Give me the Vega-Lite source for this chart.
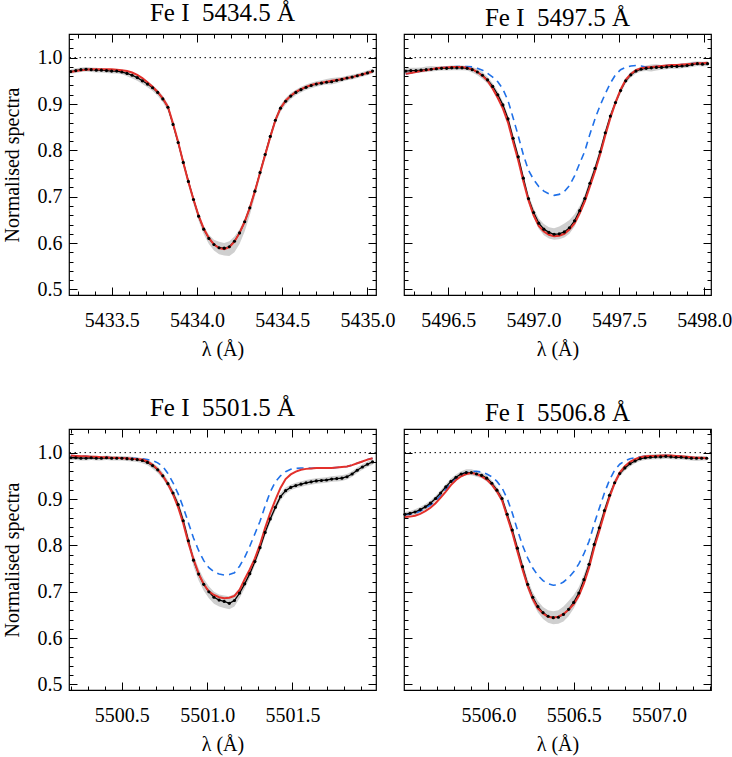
{
"$schema": "https://vega.github.io/schema/vega-lite/v6.json",
"padding": {"left": 1, "top": 0, "right": 5, "bottom": 5},
"background": "white",
"config": {
 "view": {"stroke": "black", "strokeWidth": 1.2},
 "font": "Liberation Serif",
 "style": {"guide-label": {"font": "Liberation Serif", "fontSize": 20, "fill": "black"}, "guide-title": {"font": "Liberation Serif", "fontSize": 20, "fontWeight": "normal", "fill": "black"}},
 "axis": {"labelFont": "Liberation Serif", "labelFontSize": 20, "labelColor": "black", "titleFont": "Liberation Serif", "titleFontSize": 20, "titleFontWeight": "normal", "titleColor": "black", "tickColor": "black", "tickWidth": 1, "domain": false, "grid": false, "labelOverlap": false, "labelFlush": false},
 "title": {"font": "Liberation Serif", "fontSize": 25, "fontWeight": "normal", "color": "black", "frame": "group", "anchor": "middle", "offset": 3, "baseline": "alphabetic"}
},
"datasets": {
 "p1": [
  {"lam":5433.26,"obs":0.970,"fit":0.969,"lo":0.965,"hi":0.975},
  {"lam":5433.29,"obs":0.972,"fit":0.971,"lo":0.967,"hi":0.977},
  {"lam":5433.32,"obs":0.974,"fit":0.973,"lo":0.969,"hi":0.979},
  {"lam":5433.35,"obs":0.975,"fit":0.974,"lo":0.970,"hi":0.980},
  {"lam":5433.38,"obs":0.974,"fit":0.975,"lo":0.969,"hi":0.979},
  {"lam":5433.41,"obs":0.973,"fit":0.975,"lo":0.968,"hi":0.978},
  {"lam":5433.44,"obs":0.973,"fit":0.975,"lo":0.968,"hi":0.977},
  {"lam":5433.47,"obs":0.972,"fit":0.975,"lo":0.967,"hi":0.976},
  {"lam":5433.50,"obs":0.971,"fit":0.975,"lo":0.966,"hi":0.975},
  {"lam":5433.53,"obs":0.971,"fit":0.974,"lo":0.966,"hi":0.975},
  {"lam":5433.56,"obs":0.969,"fit":0.973,"lo":0.964,"hi":0.974},
  {"lam":5433.59,"obs":0.966,"fit":0.971,"lo":0.960,"hi":0.972},
  {"lam":5433.62,"obs":0.962,"fit":0.968,"lo":0.955,"hi":0.968},
  {"lam":5433.65,"obs":0.957,"fit":0.963,"lo":0.950,"hi":0.963},
  {"lam":5433.68,"obs":0.950,"fit":0.956,"lo":0.943,"hi":0.956},
  {"lam":5433.71,"obs":0.943,"fit":0.947,"lo":0.936,"hi":0.949},
  {"lam":5433.74,"obs":0.935,"fit":0.937,"lo":0.928,"hi":0.941},
  {"lam":5433.77,"obs":0.925,"fit":0.926,"lo":0.918,"hi":0.931},
  {"lam":5433.80,"obs":0.911,"fit":0.912,"lo":0.904,"hi":0.918},
  {"lam":5433.83,"obs":0.893,"fit":0.894,"lo":0.885,"hi":0.900},
  {"lam":5433.86,"obs":0.856,"fit":0.858,"lo":0.848,"hi":0.863},
  {"lam":5433.89,"obs":0.817,"fit":0.818,"lo":0.809,"hi":0.824},
  {"lam":5433.92,"obs":0.774,"fit":0.774,"lo":0.765,"hi":0.781},
  {"lam":5433.95,"obs":0.733,"fit":0.732,"lo":0.724,"hi":0.740},
  {"lam":5433.98,"obs":0.694,"fit":0.694,"lo":0.684,"hi":0.701},
  {"lam":5434.01,"obs":0.658,"fit":0.659,"lo":0.648,"hi":0.665},
  {"lam":5434.04,"obs":0.630,"fit":0.631,"lo":0.619,"hi":0.637},
  {"lam":5434.07,"obs":0.610,"fit":0.611,"lo":0.598,"hi":0.618},
  {"lam":5434.10,"obs":0.597,"fit":0.597,"lo":0.584,"hi":0.607},
  {"lam":5434.13,"obs":0.590,"fit":0.589,"lo":0.576,"hi":0.603},
  {"lam":5434.16,"obs":0.589,"fit":0.587,"lo":0.573,"hi":0.600},
  {"lam":5434.19,"obs":0.592,"fit":0.591,"lo":0.572,"hi":0.604},
  {"lam":5434.22,"obs":0.604,"fit":0.603,"lo":0.580,"hi":0.614},
  {"lam":5434.25,"obs":0.622,"fit":0.622,"lo":0.598,"hi":0.630},
  {"lam":5434.28,"obs":0.646,"fit":0.646,"lo":0.625,"hi":0.653},
  {"lam":5434.31,"obs":0.676,"fit":0.676,"lo":0.660,"hi":0.683},
  {"lam":5434.34,"obs":0.712,"fit":0.712,"lo":0.700,"hi":0.719},
  {"lam":5434.37,"obs":0.752,"fit":0.751,"lo":0.742,"hi":0.759},
  {"lam":5434.40,"obs":0.791,"fit":0.790,"lo":0.782,"hi":0.798},
  {"lam":5434.43,"obs":0.830,"fit":0.829,"lo":0.821,"hi":0.837},
  {"lam":5434.46,"obs":0.865,"fit":0.865,"lo":0.857,"hi":0.872},
  {"lam":5434.49,"obs":0.891,"fit":0.891,"lo":0.883,"hi":0.898},
  {"lam":5434.52,"obs":0.906,"fit":0.907,"lo":0.899,"hi":0.913},
  {"lam":5434.55,"obs":0.917,"fit":0.918,"lo":0.910,"hi":0.924},
  {"lam":5434.58,"obs":0.925,"fit":0.926,"lo":0.919,"hi":0.931},
  {"lam":5434.61,"obs":0.931,"fit":0.932,"lo":0.925,"hi":0.937},
  {"lam":5434.64,"obs":0.936,"fit":0.937,"lo":0.930,"hi":0.942},
  {"lam":5434.67,"obs":0.940,"fit":0.941,"lo":0.934,"hi":0.946},
  {"lam":5434.70,"obs":0.943,"fit":0.944,"lo":0.937,"hi":0.949},
  {"lam":5434.73,"obs":0.945,"fit":0.946,"lo":0.940,"hi":0.951},
  {"lam":5434.76,"obs":0.947,"fit":0.948,"lo":0.942,"hi":0.954},
  {"lam":5434.79,"obs":0.948,"fit":0.950,"lo":0.942,"hi":0.956},
  {"lam":5434.82,"obs":0.951,"fit":0.952,"lo":0.945,"hi":0.957},
  {"lam":5434.85,"obs":0.953,"fit":0.954,"lo":0.948,"hi":0.958},
  {"lam":5434.88,"obs":0.956,"fit":0.956,"lo":0.951,"hi":0.961},
  {"lam":5434.91,"obs":0.958,"fit":0.958,"lo":0.953,"hi":0.963},
  {"lam":5434.94,"obs":0.961,"fit":0.961,"lo":0.956,"hi":0.966},
  {"lam":5434.97,"obs":0.964,"fit":0.964,"lo":0.959,"hi":0.969},
  {"lam":5435.00,"obs":0.967,"fit":0.967,"lo":0.962,"hi":0.972},
  {"lam":5435.03,"obs":0.971,"fit":0.970,"lo":0.966,"hi":0.976}
 ],
 "p2": [
  {"lam":5496.25,"obs":0.971,"fit":0.965,"alt":0.965,"lo":0.965,"hi":0.977},
  {"lam":5496.28,"obs":0.972,"fit":0.967,"alt":0.967,"lo":0.966,"hi":0.978},
  {"lam":5496.31,"obs":0.972,"fit":0.969,"alt":0.969,"lo":0.967,"hi":0.978},
  {"lam":5496.34,"obs":0.973,"fit":0.971,"alt":0.971,"lo":0.968,"hi":0.979},
  {"lam":5496.37,"obs":0.974,"fit":0.973,"alt":0.973,"lo":0.969,"hi":0.981},
  {"lam":5496.40,"obs":0.975,"fit":0.975,"alt":0.975,"lo":0.970,"hi":0.982},
  {"lam":5496.43,"obs":0.976,"fit":0.977,"alt":0.977,"lo":0.971,"hi":0.981},
  {"lam":5496.46,"obs":0.977,"fit":0.978,"alt":0.978,"lo":0.972,"hi":0.982},
  {"lam":5496.49,"obs":0.977,"fit":0.979,"alt":0.979,"lo":0.972,"hi":0.982},
  {"lam":5496.52,"obs":0.978,"fit":0.980,"alt":0.980,"lo":0.973,"hi":0.983},
  {"lam":5496.55,"obs":0.978,"fit":0.980,"alt":0.981,"lo":0.973,"hi":0.983},
  {"lam":5496.58,"obs":0.978,"fit":0.980,"alt":0.981,"lo":0.973,"hi":0.983},
  {"lam":5496.61,"obs":0.977,"fit":0.978,"alt":0.981,"lo":0.972,"hi":0.982},
  {"lam":5496.64,"obs":0.974,"fit":0.975,"alt":0.980,"lo":0.968,"hi":0.980},
  {"lam":5496.67,"obs":0.969,"fit":0.969,"alt":0.977,"lo":0.962,"hi":0.976},
  {"lam":5496.70,"obs":0.962,"fit":0.961,"alt":0.973,"lo":0.954,"hi":0.969},
  {"lam":5496.73,"obs":0.952,"fit":0.950,"alt":0.966,"lo":0.944,"hi":0.959},
  {"lam":5496.76,"obs":0.938,"fit":0.933,"alt":0.958,"lo":0.930,"hi":0.945},
  {"lam":5496.79,"obs":0.920,"fit":0.913,"alt":0.948,"lo":0.912,"hi":0.927},
  {"lam":5496.82,"obs":0.898,"fit":0.890,"alt":0.932,"lo":0.890,"hi":0.905},
  {"lam":5496.85,"obs":0.868,"fit":0.860,"alt":0.907,"lo":0.860,"hi":0.876},
  {"lam":5496.88,"obs":0.826,"fit":0.818,"alt":0.870,"lo":0.818,"hi":0.834},
  {"lam":5496.91,"obs":0.786,"fit":0.778,"alt":0.831,"lo":0.777,"hi":0.794},
  {"lam":5496.94,"obs":0.740,"fit":0.733,"alt":0.790,"lo":0.731,"hi":0.748},
  {"lam":5496.97,"obs":0.696,"fit":0.692,"alt":0.757,"lo":0.686,"hi":0.704},
  {"lam":5497.00,"obs":0.666,"fit":0.660,"alt":0.737,"lo":0.655,"hi":0.675},
  {"lam":5497.03,"obs":0.643,"fit":0.637,"alt":0.722,"lo":0.631,"hi":0.653},
  {"lam":5497.06,"obs":0.630,"fit":0.625,"alt":0.712,"lo":0.617,"hi":0.641},
  {"lam":5497.09,"obs":0.623,"fit":0.618,"alt":0.706,"lo":0.610,"hi":0.634},
  {"lam":5497.12,"obs":0.619,"fit":0.615,"alt":0.703,"lo":0.607,"hi":0.632},
  {"lam":5497.15,"obs":0.620,"fit":0.616,"alt":0.705,"lo":0.608,"hi":0.636},
  {"lam":5497.18,"obs":0.624,"fit":0.620,"alt":0.711,"lo":0.612,"hi":0.642},
  {"lam":5497.21,"obs":0.633,"fit":0.629,"alt":0.724,"lo":0.620,"hi":0.650},
  {"lam":5497.24,"obs":0.648,"fit":0.643,"alt":0.745,"lo":0.636,"hi":0.662},
  {"lam":5497.27,"obs":0.670,"fit":0.664,"alt":0.772,"lo":0.659,"hi":0.680},
  {"lam":5497.30,"obs":0.696,"fit":0.690,"alt":0.798,"lo":0.686,"hi":0.705},
  {"lam":5497.33,"obs":0.729,"fit":0.722,"alt":0.835,"lo":0.720,"hi":0.737},
  {"lam":5497.36,"obs":0.761,"fit":0.755,"alt":0.868,"lo":0.752,"hi":0.769},
  {"lam":5497.39,"obs":0.797,"fit":0.791,"alt":0.897,"lo":0.789,"hi":0.805},
  {"lam":5497.42,"obs":0.838,"fit":0.832,"alt":0.922,"lo":0.830,"hi":0.845},
  {"lam":5497.45,"obs":0.874,"fit":0.870,"alt":0.945,"lo":0.866,"hi":0.881},
  {"lam":5497.48,"obs":0.903,"fit":0.903,"alt":0.963,"lo":0.896,"hi":0.910},
  {"lam":5497.51,"obs":0.929,"fit":0.931,"alt":0.974,"lo":0.922,"hi":0.936},
  {"lam":5497.54,"obs":0.950,"fit":0.952,"alt":0.979,"lo":0.944,"hi":0.956},
  {"lam":5497.57,"obs":0.963,"fit":0.965,"alt":0.982,"lo":0.957,"hi":0.969},
  {"lam":5497.60,"obs":0.971,"fit":0.973,"alt":0.983,"lo":0.966,"hi":0.976},
  {"lam":5497.63,"obs":0.975,"fit":0.977,"alt":0.982,"lo":0.970,"hi":0.980},
  {"lam":5497.66,"obs":0.977,"fit":0.979,"alt":0.980,"lo":0.971,"hi":0.983},
  {"lam":5497.69,"obs":0.978,"fit":0.980,"alt":0.980,"lo":0.970,"hi":0.985},
  {"lam":5497.72,"obs":0.979,"fit":0.981,"alt":0.981,"lo":0.972,"hi":0.986},
  {"lam":5497.75,"obs":0.979,"fit":0.982,"alt":0.982,"lo":0.974,"hi":0.984},
  {"lam":5497.78,"obs":0.980,"fit":0.983,"alt":0.983,"lo":0.975,"hi":0.985},
  {"lam":5497.81,"obs":0.981,"fit":0.984,"alt":0.984,"lo":0.976,"hi":0.986},
  {"lam":5497.84,"obs":0.981,"fit":0.984,"alt":0.984,"lo":0.976,"hi":0.986},
  {"lam":5497.87,"obs":0.982,"fit":0.985,"alt":0.985,"lo":0.977,"hi":0.987},
  {"lam":5497.90,"obs":0.983,"fit":0.986,"alt":0.986,"lo":0.978,"hi":0.989},
  {"lam":5497.93,"obs":0.985,"fit":0.987,"alt":0.987,"lo":0.980,"hi":0.991},
  {"lam":5497.96,"obs":0.987,"fit":0.988,"alt":0.988,"lo":0.982,"hi":0.992},
  {"lam":5497.99,"obs":0.986,"fit":0.988,"alt":0.988,"lo":0.981,"hi":0.991},
  {"lam":5498.02,"obs":0.987,"fit":0.989,"alt":0.989,"lo":0.982,"hi":0.992}
 ],
 "p3": [
  {"lam":5500.20,"obs":0.989,"fit":0.994,"alt":0.994,"lo":0.984,"hi":0.994},
  {"lam":5500.23,"obs":0.989,"fit":0.993,"alt":0.993,"lo":0.984,"hi":0.994},
  {"lam":5500.26,"obs":0.988,"fit":0.992,"alt":0.992,"lo":0.983,"hi":0.994},
  {"lam":5500.29,"obs":0.988,"fit":0.992,"alt":0.992,"lo":0.983,"hi":0.993},
  {"lam":5500.32,"obs":0.989,"fit":0.991,"alt":0.991,"lo":0.984,"hi":0.994},
  {"lam":5500.35,"obs":0.988,"fit":0.991,"alt":0.991,"lo":0.983,"hi":0.993},
  {"lam":5500.38,"obs":0.988,"fit":0.990,"alt":0.990,"lo":0.983,"hi":0.993},
  {"lam":5500.41,"obs":0.989,"fit":0.990,"alt":0.990,"lo":0.984,"hi":0.994},
  {"lam":5500.44,"obs":0.988,"fit":0.989,"alt":0.989,"lo":0.983,"hi":0.993},
  {"lam":5500.47,"obs":0.988,"fit":0.989,"alt":0.989,"lo":0.983,"hi":0.993},
  {"lam":5500.50,"obs":0.988,"fit":0.988,"alt":0.989,"lo":0.983,"hi":0.993},
  {"lam":5500.53,"obs":0.987,"fit":0.988,"alt":0.988,"lo":0.982,"hi":0.992},
  {"lam":5500.56,"obs":0.986,"fit":0.987,"alt":0.988,"lo":0.981,"hi":0.991},
  {"lam":5500.59,"obs":0.985,"fit":0.986,"alt":0.987,"lo":0.980,"hi":0.990},
  {"lam":5500.62,"obs":0.983,"fit":0.985,"alt":0.987,"lo":0.977,"hi":0.988},
  {"lam":5500.65,"obs":0.979,"fit":0.981,"alt":0.985,"lo":0.973,"hi":0.985},
  {"lam":5500.68,"obs":0.972,"fit":0.974,"alt":0.983,"lo":0.965,"hi":0.978},
  {"lam":5500.71,"obs":0.963,"fit":0.964,"alt":0.978,"lo":0.956,"hi":0.970},
  {"lam":5500.74,"obs":0.950,"fit":0.950,"alt":0.970,"lo":0.943,"hi":0.957},
  {"lam":5500.77,"obs":0.933,"fit":0.932,"alt":0.955,"lo":0.926,"hi":0.940},
  {"lam":5500.80,"obs":0.913,"fit":0.910,"alt":0.935,"lo":0.905,"hi":0.920},
  {"lam":5500.83,"obs":0.888,"fit":0.882,"alt":0.911,"lo":0.880,"hi":0.896},
  {"lam":5500.86,"obs":0.853,"fit":0.847,"alt":0.882,"lo":0.844,"hi":0.862},
  {"lam":5500.89,"obs":0.810,"fit":0.805,"alt":0.849,"lo":0.800,"hi":0.820},
  {"lam":5500.92,"obs":0.768,"fit":0.770,"alt":0.816,"lo":0.755,"hi":0.780},
  {"lam":5500.95,"obs":0.738,"fit":0.739,"alt":0.789,"lo":0.724,"hi":0.750},
  {"lam":5500.98,"obs":0.716,"fit":0.716,"alt":0.767,"lo":0.702,"hi":0.728},
  {"lam":5501.01,"obs":0.700,"fit":0.701,"alt":0.752,"lo":0.686,"hi":0.712},
  {"lam":5501.04,"obs":0.688,"fit":0.693,"alt":0.743,"lo":0.674,"hi":0.700},
  {"lam":5501.07,"obs":0.682,"fit":0.688,"alt":0.738,"lo":0.668,"hi":0.694},
  {"lam":5501.10,"obs":0.679,"fit":0.686,"alt":0.736,"lo":0.665,"hi":0.692},
  {"lam":5501.13,"obs":0.675,"fit":0.687,"alt":0.737,"lo":0.662,"hi":0.690},
  {"lam":5501.16,"obs":0.681,"fit":0.691,"alt":0.741,"lo":0.668,"hi":0.695},
  {"lam":5501.19,"obs":0.697,"fit":0.704,"alt":0.755,"lo":0.686,"hi":0.708},
  {"lam":5501.22,"obs":0.717,"fit":0.727,"alt":0.774,"lo":0.707,"hi":0.727},
  {"lam":5501.25,"obs":0.739,"fit":0.748,"alt":0.798,"lo":0.730,"hi":0.748},
  {"lam":5501.28,"obs":0.765,"fit":0.772,"alt":0.825,"lo":0.757,"hi":0.773},
  {"lam":5501.31,"obs":0.795,"fit":0.802,"alt":0.852,"lo":0.787,"hi":0.803},
  {"lam":5501.34,"obs":0.828,"fit":0.838,"alt":0.885,"lo":0.820,"hi":0.836},
  {"lam":5501.37,"obs":0.857,"fit":0.870,"alt":0.915,"lo":0.849,"hi":0.866},
  {"lam":5501.40,"obs":0.882,"fit":0.898,"alt":0.937,"lo":0.874,"hi":0.891},
  {"lam":5501.43,"obs":0.905,"fit":0.924,"alt":0.950,"lo":0.897,"hi":0.913},
  {"lam":5501.46,"obs":0.918,"fit":0.943,"alt":0.959,"lo":0.911,"hi":0.925},
  {"lam":5501.49,"obs":0.925,"fit":0.953,"alt":0.964,"lo":0.919,"hi":0.931},
  {"lam":5501.52,"obs":0.929,"fit":0.959,"alt":0.966,"lo":0.923,"hi":0.935},
  {"lam":5501.55,"obs":0.932,"fit":0.963,"alt":0.967,"lo":0.926,"hi":0.938},
  {"lam":5501.58,"obs":0.935,"fit":0.965,"alt":0.967,"lo":0.929,"hi":0.941},
  {"lam":5501.61,"obs":0.937,"fit":0.966,"alt":0.966,"lo":0.931,"hi":0.943},
  {"lam":5501.64,"obs":0.939,"fit":0.967,"alt":0.967,"lo":0.933,"hi":0.945},
  {"lam":5501.67,"obs":0.940,"fit":0.967,"alt":0.967,"lo":0.934,"hi":0.946},
  {"lam":5501.70,"obs":0.941,"fit":0.967,"alt":0.967,"lo":0.935,"hi":0.947},
  {"lam":5501.73,"obs":0.943,"fit":0.967,"alt":0.967,"lo":0.937,"hi":0.949},
  {"lam":5501.76,"obs":0.944,"fit":0.968,"alt":0.968,"lo":0.938,"hi":0.950},
  {"lam":5501.79,"obs":0.945,"fit":0.969,"alt":0.969,"lo":0.939,"hi":0.951},
  {"lam":5501.82,"obs":0.948,"fit":0.970,"alt":0.970,"lo":0.942,"hi":0.954},
  {"lam":5501.85,"obs":0.954,"fit":0.973,"alt":0.973,"lo":0.948,"hi":0.960},
  {"lam":5501.88,"obs":0.962,"fit":0.977,"alt":0.977,"lo":0.956,"hi":0.968},
  {"lam":5501.91,"obs":0.969,"fit":0.981,"alt":0.981,"lo":0.963,"hi":0.975},
  {"lam":5501.94,"obs":0.975,"fit":0.985,"alt":0.985,"lo":0.969,"hi":0.981},
  {"lam":5501.97,"obs":0.980,"fit":0.988,"alt":0.988,"lo":0.974,"hi":0.986}
 ],
 "p4": [
  {"lam":5505.51,"obs":0.867,"fit":0.861,"alt":0.866,"lo":0.862,"hi":0.872},
  {"lam":5505.54,"obs":0.869,"fit":0.862,"alt":0.867,"lo":0.864,"hi":0.874},
  {"lam":5505.57,"obs":0.872,"fit":0.864,"alt":0.869,"lo":0.866,"hi":0.878},
  {"lam":5505.60,"obs":0.877,"fit":0.868,"alt":0.874,"lo":0.871,"hi":0.883},
  {"lam":5505.63,"obs":0.883,"fit":0.874,"alt":0.880,"lo":0.877,"hi":0.889},
  {"lam":5505.66,"obs":0.891,"fit":0.881,"alt":0.887,"lo":0.885,"hi":0.897},
  {"lam":5505.69,"obs":0.901,"fit":0.891,"alt":0.896,"lo":0.895,"hi":0.907},
  {"lam":5505.72,"obs":0.913,"fit":0.903,"alt":0.908,"lo":0.907,"hi":0.919},
  {"lam":5505.75,"obs":0.926,"fit":0.916,"alt":0.921,"lo":0.920,"hi":0.932},
  {"lam":5505.78,"obs":0.938,"fit":0.930,"alt":0.934,"lo":0.932,"hi":0.944},
  {"lam":5505.81,"obs":0.947,"fit":0.941,"alt":0.945,"lo":0.941,"hi":0.953},
  {"lam":5505.84,"obs":0.954,"fit":0.949,"alt":0.953,"lo":0.948,"hi":0.960},
  {"lam":5505.87,"obs":0.957,"fit":0.954,"alt":0.957,"lo":0.951,"hi":0.964},
  {"lam":5505.90,"obs":0.957,"fit":0.956,"alt":0.959,"lo":0.951,"hi":0.964},
  {"lam":5505.93,"obs":0.954,"fit":0.954,"alt":0.960,"lo":0.948,"hi":0.961},
  {"lam":5505.96,"obs":0.951,"fit":0.949,"alt":0.958,"lo":0.945,"hi":0.957},
  {"lam":5505.99,"obs":0.945,"fit":0.942,"alt":0.954,"lo":0.938,"hi":0.951},
  {"lam":5506.02,"obs":0.934,"fit":0.931,"alt":0.948,"lo":0.927,"hi":0.940},
  {"lam":5506.05,"obs":0.919,"fit":0.916,"alt":0.938,"lo":0.911,"hi":0.926},
  {"lam":5506.08,"obs":0.901,"fit":0.897,"alt":0.924,"lo":0.893,"hi":0.908},
  {"lam":5506.11,"obs":0.867,"fit":0.862,"alt":0.901,"lo":0.858,"hi":0.875},
  {"lam":5506.14,"obs":0.833,"fit":0.827,"alt":0.870,"lo":0.824,"hi":0.842},
  {"lam":5506.17,"obs":0.794,"fit":0.787,"alt":0.833,"lo":0.784,"hi":0.803},
  {"lam":5506.20,"obs":0.754,"fit":0.748,"alt":0.800,"lo":0.744,"hi":0.764},
  {"lam":5506.23,"obs":0.716,"fit":0.712,"alt":0.773,"lo":0.705,"hi":0.727},
  {"lam":5506.26,"obs":0.688,"fit":0.684,"alt":0.751,"lo":0.676,"hi":0.699},
  {"lam":5506.29,"obs":0.668,"fit":0.664,"alt":0.735,"lo":0.655,"hi":0.680},
  {"lam":5506.32,"obs":0.655,"fit":0.653,"alt":0.724,"lo":0.641,"hi":0.667},
  {"lam":5506.35,"obs":0.647,"fit":0.646,"alt":0.717,"lo":0.633,"hi":0.660},
  {"lam":5506.38,"obs":0.644,"fit":0.644,"alt":0.714,"lo":0.630,"hi":0.658},
  {"lam":5506.41,"obs":0.645,"fit":0.646,"alt":0.715,"lo":0.631,"hi":0.660},
  {"lam":5506.44,"obs":0.651,"fit":0.652,"alt":0.721,"lo":0.636,"hi":0.668},
  {"lam":5506.47,"obs":0.662,"fit":0.661,"alt":0.730,"lo":0.647,"hi":0.680},
  {"lam":5506.50,"obs":0.677,"fit":0.673,"alt":0.743,"lo":0.664,"hi":0.693},
  {"lam":5506.53,"obs":0.697,"fit":0.691,"alt":0.760,"lo":0.686,"hi":0.710},
  {"lam":5506.56,"obs":0.726,"fit":0.718,"alt":0.782,"lo":0.716,"hi":0.737},
  {"lam":5506.59,"obs":0.759,"fit":0.752,"alt":0.809,"lo":0.750,"hi":0.769},
  {"lam":5506.62,"obs":0.802,"fit":0.795,"alt":0.846,"lo":0.793,"hi":0.811},
  {"lam":5506.65,"obs":0.838,"fit":0.831,"alt":0.880,"lo":0.829,"hi":0.847},
  {"lam":5506.68,"obs":0.875,"fit":0.869,"alt":0.913,"lo":0.867,"hi":0.883},
  {"lam":5506.71,"obs":0.908,"fit":0.904,"alt":0.941,"lo":0.901,"hi":0.915},
  {"lam":5506.74,"obs":0.935,"fit":0.934,"alt":0.962,"lo":0.928,"hi":0.942},
  {"lam":5506.77,"obs":0.955,"fit":0.957,"alt":0.975,"lo":0.949,"hi":0.961},
  {"lam":5506.80,"obs":0.967,"fit":0.971,"alt":0.982,"lo":0.961,"hi":0.973},
  {"lam":5506.83,"obs":0.976,"fit":0.980,"alt":0.987,"lo":0.970,"hi":0.982},
  {"lam":5506.86,"obs":0.982,"fit":0.986,"alt":0.989,"lo":0.977,"hi":0.988},
  {"lam":5506.89,"obs":0.987,"fit":0.990,"alt":0.991,"lo":0.982,"hi":0.992},
  {"lam":5506.92,"obs":0.989,"fit":0.992,"alt":0.992,"lo":0.984,"hi":0.995},
  {"lam":5506.95,"obs":0.990,"fit":0.993,"alt":0.993,"lo":0.985,"hi":0.996},
  {"lam":5506.98,"obs":0.991,"fit":0.993,"alt":0.993,"lo":0.986,"hi":0.997},
  {"lam":5507.01,"obs":0.991,"fit":0.994,"alt":0.994,"lo":0.986,"hi":0.996},
  {"lam":5507.04,"obs":0.992,"fit":0.994,"alt":0.994,"lo":0.987,"hi":0.997},
  {"lam":5507.07,"obs":0.991,"fit":0.994,"alt":0.994,"lo":0.986,"hi":0.996},
  {"lam":5507.10,"obs":0.990,"fit":0.993,"alt":0.993,"lo":0.985,"hi":0.995},
  {"lam":5507.13,"obs":0.990,"fit":0.992,"alt":0.992,"lo":0.985,"hi":0.995},
  {"lam":5507.16,"obs":0.989,"fit":0.991,"alt":0.991,"lo":0.984,"hi":0.994},
  {"lam":5507.19,"obs":0.988,"fit":0.990,"alt":0.990,"lo":0.983,"hi":0.993},
  {"lam":5507.22,"obs":0.988,"fit":0.989,"alt":0.989,"lo":0.982,"hi":0.993},
  {"lam":5507.25,"obs":0.988,"fit":0.989,"alt":0.989,"lo":0.983,"hi":0.993},
  {"lam":5507.28,"obs":0.988,"fit":0.988,"alt":0.988,"lo":0.983,"hi":0.993}
 ],
 "one": [{"v": 1.0}]
},
"columns": 2,
"spacing": {"row": 134, "column": 28},
"bounds": "flush",
"concat": [
  {
   "width": 307, "height": 261,
   "title": {"text": "Fe I\u00a0 5434.5 Å"},
   "data": {"name": "p1"},
   "resolve": {"axis": {"x": "independent", "y": "independent"}},
   "layer": [
    {"mark": {"type": "area", "color": "#cfcfcf"},
     "encoding": {
      "x": {"field": "lam", "type": "quantitative", "scale": {"domain": [5433.25, 5435.05], "nice": false, "zero": false},
            "axis": {"orient": "bottom", "title": "λ (Å)", "labelFont": "Liberation Serif", "titleFont": "Liberation Serif", "values": [5433.3,5433.4,5433.5,5433.6,5433.7,5433.8,5433.9,5434,5434.1,5434.2,5434.3,5434.4,5434.5,5434.6,5434.7,5434.8,5434.9,5435],
                     "labelExpr": "abs(datum.value*2 - round(datum.value*2)) < 0.01 ? format(datum.value, '.1f') : ''",
                     "tickSize": {"condition": {"test": "abs(datum.value*2 - round(datum.value*2)) < 0.01", "value": -8}, "value": -4},
                     "labelPadding": 23, "titlePadding": 5}},
      "y": {"field": "lo", "type": "quantitative", "scale": {"domain": [0.488, 1.051], "nice": false, "zero": false},
            "axis": {"orient": "left", "title": "Normalised spectra", "labelFont": "Liberation Serif", "titleFont": "Liberation Serif", "values": [0.5,0.52,0.54,0.56,0.58,0.6,0.62,0.64,0.66,0.68,0.7,0.72,0.74,0.76,0.78,0.8,0.82,0.84,0.86,0.88,0.9,0.92,0.94,0.96,0.98,1.0,1.02,1.04],
                     "labelExpr": "abs(datum.value*10 - round(datum.value*10)) < 0.01 ? format(datum.value, '.1f') : ''",
                     "tickSize": {"condition": {"test": "abs(datum.value*10 - round(datum.value*10)) < 0.01", "value": -8}, "value": -4},
                     "labelPadding": 15, "titlePadding": 15}},
      "y2": {"field": "hi"}
     }},
    {"data": {"name": "one"}, "mark": {"type": "rule", "color": "black", "strokeWidth": 1, "strokeDash": [1.5, 3.5]},
     "encoding": {"y": {"field": "v", "type": "quantitative", "axis": null}}},
    {"mark": {"type": "line", "color": "black", "strokeWidth": 1.3},
     "encoding": {"x": {"field": "lam", "type": "quantitative", "axis": null}, "y": {"field": "obs", "type": "quantitative", "axis": null}}},
    {"mark": {"type": "line", "color": "#e3302b", "strokeWidth": 2},
     "encoding": {"x": {"field": "lam", "type": "quantitative", "axis": null}, "y": {"field": "fit", "type": "quantitative", "axis": null}}},
    {"mark": {"type": "circle", "color": "black", "size": 10, "opacity": 1},
     "encoding": {
      "x": {"field": "lam", "type": "quantitative",
            "axis": {"orient": "top", "labels": false, "title": null, "values": [5433.3,5433.4,5433.5,5433.6,5433.7,5433.8,5433.9,5434,5434.1,5434.2,5434.3,5434.4,5434.5,5434.6,5434.7,5434.8,5434.9,5435],
                     "tickSize": {"condition": {"test": "abs(datum.value*2 - round(datum.value*2)) < 0.01", "value": -8}, "value": -4}}},
      "y": {"field": "obs", "type": "quantitative",
            "axis": {"orient": "right", "labels": false, "title": null, "values": [0.5,0.52,0.54,0.56,0.58,0.6,0.62,0.64,0.66,0.68,0.7,0.72,0.74,0.76,0.78,0.8,0.82,0.84,0.86,0.88,0.9,0.92,0.94,0.96,0.98,1.0,1.02,1.04],
                     "tickSize": {"condition": {"test": "abs(datum.value*10 - round(datum.value*10)) < 0.01", "value": -8}, "value": -4}}}
     }}
   ]
  },
  {
   "width": 307, "height": 261,
   "title": {"text": "Fe I\u00a0 5497.5 Å"},
   "data": {"name": "p2"},
   "resolve": {"axis": {"x": "independent", "y": "independent"}},
   "layer": [
    {"mark": {"type": "area", "color": "#cfcfcf"},
     "encoding": {
      "x": {"field": "lam", "type": "quantitative", "scale": {"domain": [5496.24, 5498.04], "nice": false, "zero": false},
            "axis": {"orient": "bottom", "title": "λ (Å)", "labelFont": "Liberation Serif", "titleFont": "Liberation Serif", "values": [5496.3,5496.4,5496.5,5496.6,5496.7,5496.8,5496.9,5497,5497.1,5497.2,5497.3,5497.4,5497.5,5497.6,5497.7,5497.8,5497.9,5498],
                     "labelExpr": "abs(datum.value*2 - round(datum.value*2)) < 0.01 ? format(datum.value, '.1f') : ''",
                     "tickSize": {"condition": {"test": "abs(datum.value*2 - round(datum.value*2)) < 0.01", "value": -8}, "value": -4},
                     "labelPadding": 23, "titlePadding": 5}},
      "y": {"field": "lo", "type": "quantitative", "scale": {"domain": [0.488, 1.051], "nice": false, "zero": false},
            "axis": {"orient": "left", "labels": false, "title": null, "values": [0.5,0.52,0.54,0.56,0.58,0.6,0.62,0.64,0.66,0.68,0.7,0.72,0.74,0.76,0.78,0.8,0.82,0.84,0.86,0.88,0.9,0.92,0.94,0.96,0.98,1.0,1.02,1.04],
                     "tickSize": {"condition": {"test": "abs(datum.value*10 - round(datum.value*10)) < 0.01", "value": -8}, "value": -4}}},
      "y2": {"field": "hi"}
     }},
    {"data": {"name": "one"}, "mark": {"type": "rule", "color": "black", "strokeWidth": 1, "strokeDash": [1.5, 3.5]},
     "encoding": {"y": {"field": "v", "type": "quantitative", "axis": null}}},
    {"mark": {"type": "line", "color": "#1f70e8", "strokeWidth": 1.6, "strokeDash": [7, 5]},
     "encoding": {"x": {"field": "lam", "type": "quantitative", "axis": null}, "y": {"field": "alt", "type": "quantitative", "axis": null}}},
    {"mark": {"type": "line", "color": "black", "strokeWidth": 1.3},
     "encoding": {"x": {"field": "lam", "type": "quantitative", "axis": null}, "y": {"field": "obs", "type": "quantitative", "axis": null}}},
    {"mark": {"type": "line", "color": "#e3302b", "strokeWidth": 2},
     "encoding": {"x": {"field": "lam", "type": "quantitative", "axis": null}, "y": {"field": "fit", "type": "quantitative", "axis": null}}},
    {"mark": {"type": "circle", "color": "black", "size": 10, "opacity": 1},
     "encoding": {
      "x": {"field": "lam", "type": "quantitative",
            "axis": {"orient": "top", "labels": false, "title": null, "values": [5496.3,5496.4,5496.5,5496.6,5496.7,5496.8,5496.9,5497,5497.1,5497.2,5497.3,5497.4,5497.5,5497.6,5497.7,5497.8,5497.9,5498],
                     "tickSize": {"condition": {"test": "abs(datum.value*2 - round(datum.value*2)) < 0.01", "value": -8}, "value": -4}}},
      "y": {"field": "obs", "type": "quantitative",
            "axis": {"orient": "right", "labels": false, "title": null, "values": [0.5,0.52,0.54,0.56,0.58,0.6,0.62,0.64,0.66,0.68,0.7,0.72,0.74,0.76,0.78,0.8,0.82,0.84,0.86,0.88,0.9,0.92,0.94,0.96,0.98,1.0,1.02,1.04],
                     "tickSize": {"condition": {"test": "abs(datum.value*10 - round(datum.value*10)) < 0.01", "value": -8}, "value": -4}}}
     }}
   ]
  },
  {
   "width": 307, "height": 261,
   "title": {"text": "Fe I\u00a0 5501.5 Å"},
   "data": {"name": "p3"},
   "resolve": {"axis": {"x": "independent", "y": "independent"}},
   "layer": [
    {"mark": {"type": "area", "color": "#cfcfcf"},
     "encoding": {
      "x": {"field": "lam", "type": "quantitative", "scale": {"domain": [5500.19, 5501.99], "nice": false, "zero": false},
            "axis": {"orient": "bottom", "title": "λ (Å)", "labelFont": "Liberation Serif", "titleFont": "Liberation Serif", "values": [5500.2,5500.3,5500.4,5500.5,5500.6,5500.7,5500.8,5500.9,5501,5501.1,5501.2,5501.3,5501.4,5501.5,5501.6,5501.7,5501.8,5501.9],
                     "labelExpr": "abs(datum.value*2 - round(datum.value*2)) < 0.01 ? format(datum.value, '.1f') : ''",
                     "tickSize": {"condition": {"test": "abs(datum.value*2 - round(datum.value*2)) < 0.01", "value": -8}, "value": -4},
                     "labelPadding": 23, "titlePadding": 5}},
      "y": {"field": "lo", "type": "quantitative", "scale": {"domain": [0.488, 1.051], "nice": false, "zero": false},
            "axis": {"orient": "left", "title": "Normalised spectra", "labelFont": "Liberation Serif", "titleFont": "Liberation Serif", "values": [0.5,0.52,0.54,0.56,0.58,0.6,0.62,0.64,0.66,0.68,0.7,0.72,0.74,0.76,0.78,0.8,0.82,0.84,0.86,0.88,0.9,0.92,0.94,0.96,0.98,1.0,1.02,1.04],
                     "labelExpr": "abs(datum.value*10 - round(datum.value*10)) < 0.01 ? format(datum.value, '.1f') : ''",
                     "tickSize": {"condition": {"test": "abs(datum.value*10 - round(datum.value*10)) < 0.01", "value": -8}, "value": -4},
                     "labelPadding": 15, "titlePadding": 15}},
      "y2": {"field": "hi"}
     }},
    {"data": {"name": "one"}, "mark": {"type": "rule", "color": "black", "strokeWidth": 1, "strokeDash": [1.5, 3.5]},
     "encoding": {"y": {"field": "v", "type": "quantitative", "axis": null}}},
    {"mark": {"type": "line", "color": "#1f70e8", "strokeWidth": 1.6, "strokeDash": [7, 5]},
     "encoding": {"x": {"field": "lam", "type": "quantitative", "axis": null}, "y": {"field": "alt", "type": "quantitative", "axis": null}}},
    {"mark": {"type": "line", "color": "black", "strokeWidth": 1.3},
     "encoding": {"x": {"field": "lam", "type": "quantitative", "axis": null}, "y": {"field": "obs", "type": "quantitative", "axis": null}}},
    {"mark": {"type": "line", "color": "#e3302b", "strokeWidth": 2},
     "encoding": {"x": {"field": "lam", "type": "quantitative", "axis": null}, "y": {"field": "fit", "type": "quantitative", "axis": null}}},
    {"mark": {"type": "circle", "color": "black", "size": 10, "opacity": 1},
     "encoding": {
      "x": {"field": "lam", "type": "quantitative",
            "axis": {"orient": "top", "labels": false, "title": null, "values": [5500.2,5500.3,5500.4,5500.5,5500.6,5500.7,5500.8,5500.9,5501,5501.1,5501.2,5501.3,5501.4,5501.5,5501.6,5501.7,5501.8,5501.9],
                     "tickSize": {"condition": {"test": "abs(datum.value*2 - round(datum.value*2)) < 0.01", "value": -8}, "value": -4}}},
      "y": {"field": "obs", "type": "quantitative",
            "axis": {"orient": "right", "labels": false, "title": null, "values": [0.5,0.52,0.54,0.56,0.58,0.6,0.62,0.64,0.66,0.68,0.7,0.72,0.74,0.76,0.78,0.8,0.82,0.84,0.86,0.88,0.9,0.92,0.94,0.96,0.98,1.0,1.02,1.04],
                     "tickSize": {"condition": {"test": "abs(datum.value*10 - round(datum.value*10)) < 0.01", "value": -8}, "value": -4}}}
     }}
   ]
  },
  {
   "width": 307, "height": 261,
   "title": {"text": "Fe I\u00a0 5506.8 Å"},
   "data": {"name": "p4"},
   "resolve": {"axis": {"x": "independent", "y": "independent"}},
   "layer": [
    {"mark": {"type": "area", "color": "#cfcfcf"},
     "encoding": {
      "x": {"field": "lam", "type": "quantitative", "scale": {"domain": [5505.505, 5507.305], "nice": false, "zero": false},
            "axis": {"orient": "bottom", "title": "λ (Å)", "labelFont": "Liberation Serif", "titleFont": "Liberation Serif", "values": [5505.6,5505.7,5505.8,5505.9,5506,5506.1,5506.2,5506.3,5506.4,5506.5,5506.6,5506.7,5506.8,5506.9,5507,5507.1,5507.2,5507.3],
                     "labelExpr": "abs(datum.value*2 - round(datum.value*2)) < 0.01 ? format(datum.value, '.1f') : ''",
                     "tickSize": {"condition": {"test": "abs(datum.value*2 - round(datum.value*2)) < 0.01", "value": -8}, "value": -4},
                     "labelPadding": 23, "titlePadding": 5}},
      "y": {"field": "lo", "type": "quantitative", "scale": {"domain": [0.488, 1.051], "nice": false, "zero": false},
            "axis": {"orient": "left", "labels": false, "title": null, "values": [0.5,0.52,0.54,0.56,0.58,0.6,0.62,0.64,0.66,0.68,0.7,0.72,0.74,0.76,0.78,0.8,0.82,0.84,0.86,0.88,0.9,0.92,0.94,0.96,0.98,1.0,1.02,1.04],
                     "tickSize": {"condition": {"test": "abs(datum.value*10 - round(datum.value*10)) < 0.01", "value": -8}, "value": -4}}},
      "y2": {"field": "hi"}
     }},
    {"data": {"name": "one"}, "mark": {"type": "rule", "color": "black", "strokeWidth": 1, "strokeDash": [1.5, 3.5]},
     "encoding": {"y": {"field": "v", "type": "quantitative", "axis": null}}},
    {"mark": {"type": "line", "color": "#1f70e8", "strokeWidth": 1.6, "strokeDash": [7, 5]},
     "encoding": {"x": {"field": "lam", "type": "quantitative", "axis": null}, "y": {"field": "alt", "type": "quantitative", "axis": null}}},
    {"mark": {"type": "line", "color": "black", "strokeWidth": 1.3},
     "encoding": {"x": {"field": "lam", "type": "quantitative", "axis": null}, "y": {"field": "obs", "type": "quantitative", "axis": null}}},
    {"mark": {"type": "line", "color": "#e3302b", "strokeWidth": 2},
     "encoding": {"x": {"field": "lam", "type": "quantitative", "axis": null}, "y": {"field": "fit", "type": "quantitative", "axis": null}}},
    {"mark": {"type": "circle", "color": "black", "size": 10, "opacity": 1},
     "encoding": {
      "x": {"field": "lam", "type": "quantitative",
            "axis": {"orient": "top", "labels": false, "title": null, "values": [5505.6,5505.7,5505.8,5505.9,5506,5506.1,5506.2,5506.3,5506.4,5506.5,5506.6,5506.7,5506.8,5506.9,5507,5507.1,5507.2,5507.3],
                     "tickSize": {"condition": {"test": "abs(datum.value*2 - round(datum.value*2)) < 0.01", "value": -8}, "value": -4}}},
      "y": {"field": "obs", "type": "quantitative",
            "axis": {"orient": "right", "labels": false, "title": null, "values": [0.5,0.52,0.54,0.56,0.58,0.6,0.62,0.64,0.66,0.68,0.7,0.72,0.74,0.76,0.78,0.8,0.82,0.84,0.86,0.88,0.9,0.92,0.94,0.96,0.98,1.0,1.02,1.04],
                     "tickSize": {"condition": {"test": "abs(datum.value*10 - round(datum.value*10)) < 0.01", "value": -8}, "value": -4}}}
     }}
   ]
  }
]
}
